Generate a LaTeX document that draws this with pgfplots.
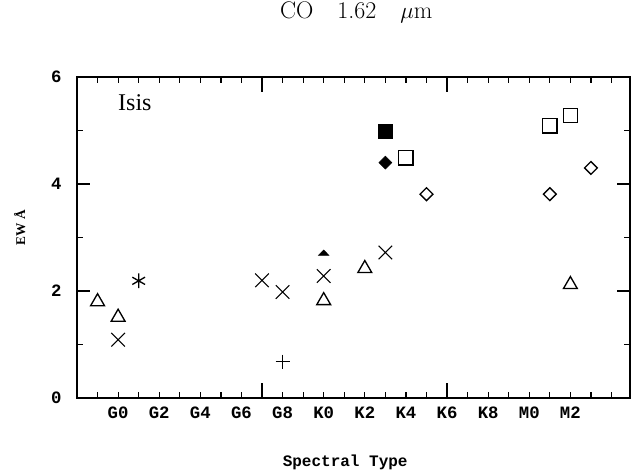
\documentclass[border=0pt]{standalone}
\usepackage{fontspec}
\setmainfont{Liberation Serif}
\setmonofont{Liberation Mono}
\newfontfamily\lmroman{Latin Modern Roman}
\usepackage{pgfplots}
\pgfplotsset{compat=1.18}

\pgfplotsset{
    plotframe/.style={
        at={(0,0)}, anchor=south west,
        scale only axis,
        width=414.75pt, height=240.75pt,
        xmin=-2, xmax=24.9,
        ymin=0, ymax=6,
        axis line style={line width=1.1pt},
        tick align=inside,
        tick style={black, line width=0.9pt},
    },
}

\begin{document}
\begin{tikzpicture}
\useasboundingbox (-57.75pt,-56.25pt) rectangle (415.5pt,298.5pt);
% long ticks at G7 and K6
\begin{axis}[
    plotframe,
    major tick length=11pt,
    xtick={7,16},
    xticklabel=\empty,
    ytick=\empty,
]
\end{axis}
\begin{axis}[
    plotframe,
    major tick length=10pt,
    minor tick length=4.5pt,
    xtick={0,2,...,22},
    xticklabels={G0,G2,G4,G6,G8,K0,K2,K4,K6,K8,M0,M2},
    major x tick style={draw=none},
    minor xtick={-1,0,...,24},
    ytick={0,2,4,6},
    yticklabels={0,2,4,6},
    minor ytick={1,3,5},
    tick label style={font=\fontsize{13}{13}\ttfamily\bfseries},
    xticklabel style={yshift=-3pt},
    yticklabel style={xshift=-8pt},
    title={\fontsize{18}{18}\lmroman CO\quad 1.62\quad $\mu$m},
    title style={at={(rel axis cs:0.505,1)}, yshift=37.5pt, anchor=base},
    xlabel={Spectral Type},
    every axis x label/.style={at={(rel axis cs:0.485,0)}, yshift=-48pt, anchor=center,
        font=\fontsize{12}{12}\ttfamily\bfseries},
    ylabel={EW \AA},
    every axis y label/.style={at={(rel axis cs:0,0.53)}, xshift=-43pt, rotate=90, anchor=center,
        font=\fontsize{10}{10}\bfseries},
    clip=false,
]
% open triangles
\addplot[only marks, mark=triangle, mark size=6pt, mark options={line width=1pt}] coordinates {
    (-1,1.80) (0,1.51) (10,1.82) (12,2.42) (22,2.12)
};
% crosses
\addplot[only marks, mark=x, mark size=7.2pt, mark options={line width=0.8pt}] coordinates {
    (0,1.09) (7,2.20) (8,1.98) (10,2.28) (13,2.72)
};
% asterisk
\addplot[only marks, mark=asterisk, mark size=5.5pt, mark options={line width=1pt}] coordinates {
    (1,2.19)
};
% plus
\addplot[only marks, mark=+, mark size=5.3pt, mark options={line width=0.7pt}] coordinates {
    (8,0.68)
};
% filled triangle
\addplot[only marks, mark=triangle*, mark size=4.5pt, mark options={yscale=0.6, fill=black}] coordinates {
    (10,2.70)
};
% filled square
\addplot[only marks, mark=square*, mark size=5.4pt, mark options={fill=black}] coordinates {
    (13,4.99)
};
% filled diamond
\addplot[only marks, mark=square*, mark size=3.4pt, mark options={rotate=45, fill=black}] coordinates {
    (13,4.40)
};
% open squares
\addplot[only marks, mark=square, mark size=5.4pt, mark options={line width=1pt}] coordinates {
    (14,4.49) (21,5.09) (22,5.28)
};
% open diamonds
\addplot[only marks, mark=square, mark size=3.4pt, mark options={rotate=45, line width=1pt}] coordinates {
    (15,3.81) (21,3.81) (23,4.30)
};
\node[anchor=base west, inner sep=0pt, font=\fontsize{18}{18}\selectfont] at (rel axis cs:0.074,0.897) {Isis};
\end{axis}
\end{tikzpicture}
\end{document}
